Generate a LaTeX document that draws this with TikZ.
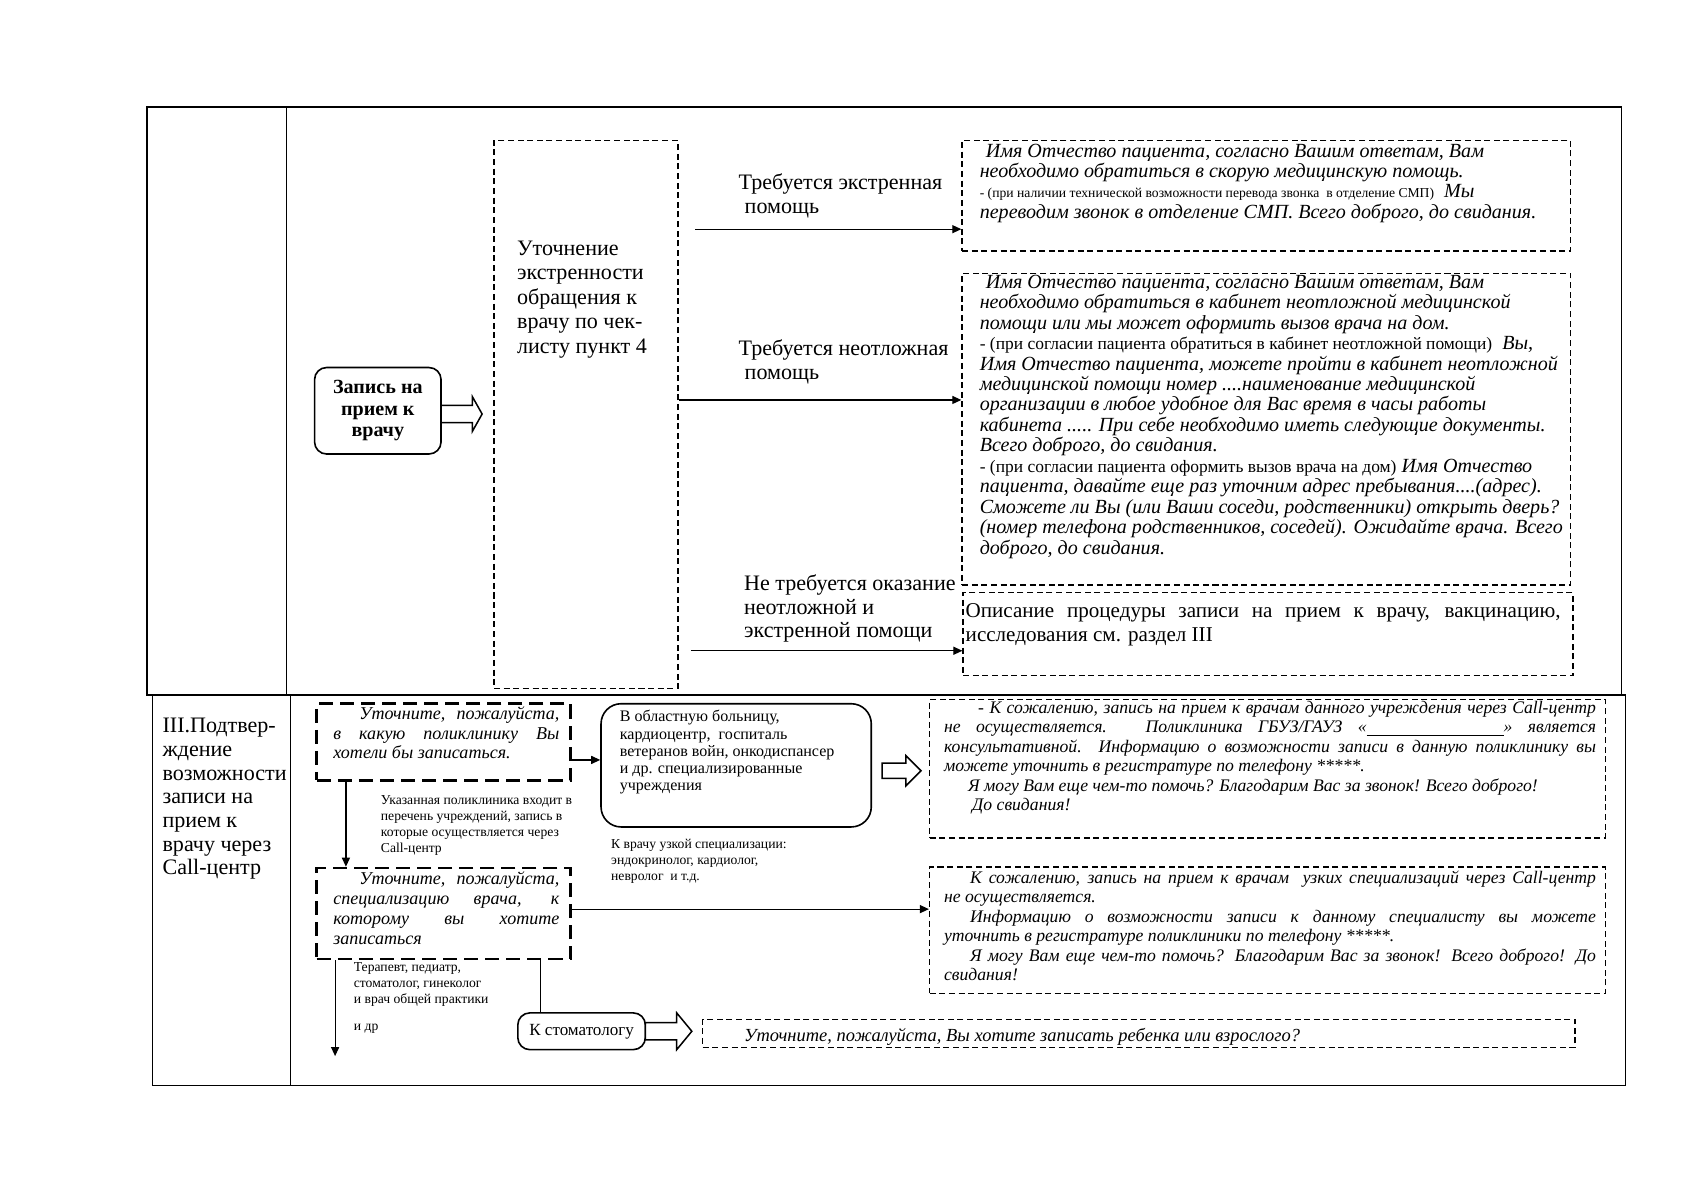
\documentclass[tikz,border=0pt]{standalone}
\usepackage{fontspec}
\setmainfont{Liberation Serif}
\usetikzlibrary{arrows.meta,fit,calc}
\newcommand\jl[2]{\makebox[#1][s]{#2}}
\newcommand\fs[2]{\fontsize{#1}{#2}\selectfont}
\begin{document}
\begin{tikzpicture}[x=0.018941cm,y=-0.018941cm,
  frame/.style={line width=0.6pt},
  dbox/.style={draw, dash pattern=on 3pt off 1.8pt, line width=0.75pt, inner sep=0pt},
  tbox/.style={draw, dash pattern=on 7pt off 3.5pt, line width=1.3pt, inner sep=0pt},
  rbox/.style={draw, rounded corners=6pt, line width=0.8pt, inner sep=0pt},
  rboxb/.style={draw, rounded corners=10pt, line width=0.8pt, inner sep=0pt},
  arr/.style={-{Triangle[length=4.5pt,width=4pt]}, line width=0.6pt},
  plain/.style={line width=0.6pt},
  barrow/.style={draw, line width=0.75pt, fill=white},
  txt/.style={inner sep=0pt, align=left, anchor=west}]
\fill[white] (0,0) rectangle (1568,1110);
\useasboundingbox (0,0) rectangle (1568,1110);

% table frame
\draw[frame] (136,99) rectangle (1500,643);
\draw[frame] (265,99) -- (265,643);
\draw[frame] (141,643) rectangle (1504,1004);
\draw[frame] (269,643) -- (269,1004);

% ---------- upper section ----------
\node[rbox, fit={(291,340)(408,420)}] (zap) {};
\node[font=\fs{10}{10.8}\bfseries, align=center, inner sep=0pt] (zapt) at (zap.center) {Запись на\\прием к\\врачу};
\draw[barrow] (408,375) -- (437,375) -- (437,367) -- (446,383) -- (437,399) -- (437,391) -- (408,391) -- cycle;

\node[dbox, fit={(457,130)(627,637)}] (tall) {};
\node[txt, font=\fs{11}{12.2}] (tallt) at (478,277) {Уточнение\\экстренности\\обращения к\\врачу по чек-\\листу пункт 4};

\node[txt, font=\fs{11}{11.8}] (l1) at (683,181) {Требуется экстренная\\\hspace*{3pt}помощь};
\node[txt, font=\fs{11}{11.8}] (l2) at (683,334.5) {Требуется неотложная\\\hspace*{3pt}помощь};
\node[txt, font=\fs{11}{11.8}] (l3) at (688,563) {Не требуется оказание\\неотложной и\\экстренной помощи};

\node[dbox, fit={(890,130)(1453,232)}] (b1) {};
\node[dbox, fit={(890,253)(1453,541)}] (b2) {};
\node[dbox, fit={(891,548)(1455,625)}] (b3) {};

\coordinate (s1) at (643,212);
\coordinate (s2) at (700,370);
\coordinate (s3) at (639,602);
\draw[arr] (s1) -- (s1 -| b1.west);
\draw[arr] (tall.east |- s2) -- (b2.west |- s2);
\draw[arr] (s3) -- (s3 -| b3.west);

\node[txt, font=\fs{10}{10.2}\itshape] (b1t) at (906,169.5) {\hspace*{3pt}Имя Отчество пациента, согласно Вашим ответам, Вам\\
необходимо обратиться в скорую медицинскую помощь.\\
{\upshape\fs{6.8}{10.2}- (при наличии технической возможности перевода звонка \ в отделение СМП)}\ \ Мы\\
переводим звонок в отделение СМП. Всего доброго, до свидания.};

\node[txt, font=\fs{10}{10.2}\itshape] (b2t) at (906,385.5) {\hspace*{3pt}Имя Отчество пациента, согласно Вашим ответам, Вам\\
необходимо обратиться в кабинет неотложной медицинской\\
помощи или мы может оформить вызов врача на дом.\\
{\upshape\fs{8.7}{10.2}- (при согласии пациента обратиться в кабинет неотложной помощи)}\ \ Вы,\\
Имя Отчество пациента, можете пройти в кабинет неотложной\\
медицинской помощи номер ....наименование медицинской\\
организации в любое удобное для Вас время в часы работы\\
кабинета ..... При себе необходимо иметь следующие документы.\\
Всего доброго, до свидания.\\
{\upshape\fs{8.7}{10.2}- (при согласии пациента оформить вызов врача на дом)} Имя Отчество\\
пациента, давайте еще раз уточним адрес пребывания....(адрес).\\
Сможете ли Вы (или Ваши соседи, родственники) открыть дверь?\\
(номер телефона родственников, соседей). Ожидайте врача. Всего\\
доброго, до свидания.};

\node[txt, font=\fs{10.5}{11.8}] (b3t) at (893,578) {\jl{10.42cm}{Описание процедуры записи на прием к врачу, вакцинацию,}\\исследования см. раздел III};

% ---------- lower section ----------
\node[txt, font=\fs{11}{11.8}] (sec) at (150,739) {III.Подтвер-\\ждение\\возможности\\записи на\\прием к\\врачу через\\Call-центр};

\node[tbox, fit={(293,651)(528,722)}] (bA) {};
\node[txt, font=\fs{9}{9.8}\itshape] (bAt) at (308,678) {\jl{3.96cm}{\hspace*{13pt}Уточните, пожалуйста,}\\\jl{3.96cm}{в какую поликлинику Вы}\\хотели бы записаться.};

\node[rboxb, fit={(556,651)(806,765)}] (bB) {};
\node[txt, font=\fs{8}{8.6}] (bBt) at (573,696) {В областную больницу,\\кардиоцентр, \ госпиталь\\ветеранов войн, онкодиспансер\\и др. специализированные\\учреждения};

\coordinate (yab) at (540,703);
\draw[arr] (bA.east |- yab) -- (bB.west |- yab);

\draw[barrow] (816,706) -- (838,706) -- (838,699) -- (852,713) -- (838,727) -- (838,720) -- (816,720) -- cycle;

\node[dbox, fit={(860,647)(1485,775)}] (bC) {};
\node[txt, font=\fs{8.8}{9.7}\itshape] (bCt) at (873,701) {\jl{11.42cm}{\hspace*{17pt}- К сожалению, запись на прием к врачам данного учреждения через Call-центр}\\
\jl{11.42cm}{не осуществляется. Поликлиника ГБУЗ/ГАУЗ «\underline{\hspace*{2.4cm}}» является}\\
\jl{11.42cm}{консультативной. Информацию о возможности записи в данную поликлинику вы}\\
можете уточнить в регистратуре по телефону *****.\\
\hspace*{12pt}Я могу Вам еще чем-то помочь? Благодарим Вас за звонок! Всего доброго!\\
\hspace*{14pt}До свидания!};

\node[tbox, fit={(293,803)(528,887)}] (bD) {};
\node[txt, font=\fs{9}{10}\itshape] (bDt) at (308,840) {\jl{3.96cm}{\hspace*{13pt}Уточните, пожалуйста,}\\\jl{3.96cm}{специализацию врача, к}\\\jl{3.96cm}{которому вы хотите}\\записаться};

\coordinate (xad) at (320,760);
\draw[arr] (bA.south -| xad) -- (bD.north -| xad);

\node[txt, font=\fs{6.8}{8}] (lab1) at (352,764) {Указанная поликлиника входит в\\перечень учреждений, запись в\\которые осуществляется через\\Call-центр};
\node[txt, font=\fs{6.8}{8}] (lab2) at (565,797) {К врачу узкой специализации:\\эндокринолог, кардиолог,\\невролог \ и т.д.};

\node[dbox, fit={(860,802)(1485,919)}] (bE) {};
\node[txt, font=\fs{8.8}{9.7}\itshape] (bEt) at (873,856.5) {\jl{11.42cm}{\hspace*{13pt}К сожалению, запись на прием к врачам \ узких специализаций через Call-центр}\\
не осуществляется.\\
\jl{11.42cm}{\hspace*{13pt}Информацию о возможности записи к данному специалисту вы можете}\\
уточнить в регистратуре поликлиники по телефону *****.\\
\jl{11.42cm}{\hspace*{13pt}Я могу Вам еще чем-то помочь? Благодарим Вас за звонок! Всего доброго! До}\\
свидания!};

\coordinate (yde) at (700,841);
\draw[arr] (bD.east |- yde) -- (bE.west |- yde);

\coordinate (dend) at (310,977);
\draw[arr] (bD.south -| dend) -- (dend);
\node[txt, font=\fs{6.8}{8}] (lab3) at (327,911) {Терапевт, педиатр,\\стоматолог, гинеколог\\и врач общей практики};
\node[txt, font=\fs{6.8}{8}] (lab4) at (327,952) {и др};

\node[rbox, fit={(479,937)(597,971)}] (stom) {};
\node[font=\fs{8.5}{9}, inner sep=0pt] (stomt) at (stom.center) {К стоматологу};
\coordinate (xds) at (500,900);
\draw[plain] (bD.south -| xds) -- (stom.north -| xds);

\draw[barrow] (597,946) -- (626,946) -- (626,937) -- (640,954) -- (626,971) -- (626,962) -- (597,962) -- cycle;

\node[dbox, fit={(650,943)(1457,969)}] (bF) {};
\node[txt, font=\fs{9.2}{10}\itshape] (bFt) at (688,959) {Уточните, пожалуйста, Вы хотите записать ребенка или взрослого?};
\end{tikzpicture}
\end{document}
